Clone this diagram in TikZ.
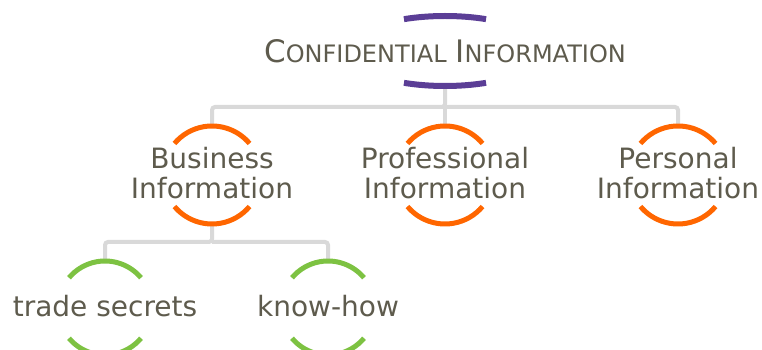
\documentclass[tikz,border=0pt]{standalone}
\usepackage{fontspec}
\setmainfont{DejaVu Sans}
\usetikzlibrary{calc}
\definecolor{txtc}{RGB}{94,91,77}
\definecolor{connc}{RGB}{217,217,217}
\definecolor{purp}{RGB}{91,62,150}
\definecolor{orng}{RGB}{255,102,0}
\definecolor{grn}{RGB}{125,194,66}
\newcommand\bigL[1]{{\fontsize{31}{31}\selectfont #1}}
\newcommand\smL[1]{{\fontsize{24}{24}\selectfont #1}}
\begin{document}
\begin{tikzpicture}[x=1pt,y=1pt,
  lbltxt/.style={inner sep=0, outer sep=0, align=center, text=txtc,
    font=\fontsize{28}{30}\selectfont},
  ring/.style={circle, minimum size=98pt, inner sep=0, outer sep=0},
  gring/.style={circle, minimum size=94pt, inner sep=0, outer sep=0},
  conn/.style={draw=connc, line width=4pt, rounded corners=3pt},
  oarc/.style={draw=orng, line width=5pt},
  garc/.style={draw=grn, line width=5pt},
  parc/.style={draw=purp, line width=6pt}]
\useasboundingbox (0,0) rectangle (762,350);
\clip (0,0) rectangle (762,350);
% ring placeholders
\coordinate (tcen) at (445,299);
\node[ring] (bus) at (212,175) {};
\node[ring] (pro) at (445,175) {};
\node[ring] (per) at (678,175) {};
\node[gring] (ts) at (105,42) {};
\node[gring] (kh) at (328,42) {};
\coordinate (tbot) at (445,264);
\coordinate (j1) at (445,243);
\coordinate (j2) at (212,108);
% connectors
\draw[conn] (tbot) -- (j1) -| (bus.north);
\draw[conn] (j1) -| (per.north);
\draw[conn] (j1) -- (pro.north);
\draw[conn] (bus.south) -- (j2) -| (ts.north);
\draw[conn] (j2) -| (kh.north);
% purple arcs (title)
\draw[parc] ($(tcen)+(65.5:99 and 35)$) arc[start angle=65.5, end angle=114.5, x radius=99, y radius=35];
\draw[parc] ($(tcen)+(245.5:99 and 35)$) arc[start angle=245.5, end angle=294.5, x radius=99, y radius=35];
% orange arcs
\foreach \n in {bus,pro,per}{
  \draw[oarc] (\n.40) arc[start angle=40, end angle=140, radius=49];
  \draw[oarc] (\n.220) arc[start angle=220, end angle=320, radius=49];
}
% green arcs
\foreach \n in {ts,kh}{
  \draw[garc] (\n.40) arc[start angle=40, end angle=140, radius=47];
  \draw[garc] (\n.220) arc[start angle=220, end angle=320, radius=47];
}
% labels
\node[lbltxt] (title) at (445,299) {\bigL{C}\smL{ONFIDENTIAL} \bigL{I}\smL{NFORMATION}};
\node[lbltxt] (bust) at (212,177) {Business\\Information};
\node[lbltxt] (prot) at (445,177) {Professional\\Information};
\node[lbltxt] (pert) at (678,177) {Personal\\Information};
\node[lbltxt] (tst) at (105,44) {trade secrets};
\node[lbltxt] (kht) at (328,44) {know-how};
\end{tikzpicture}
\end{document}
